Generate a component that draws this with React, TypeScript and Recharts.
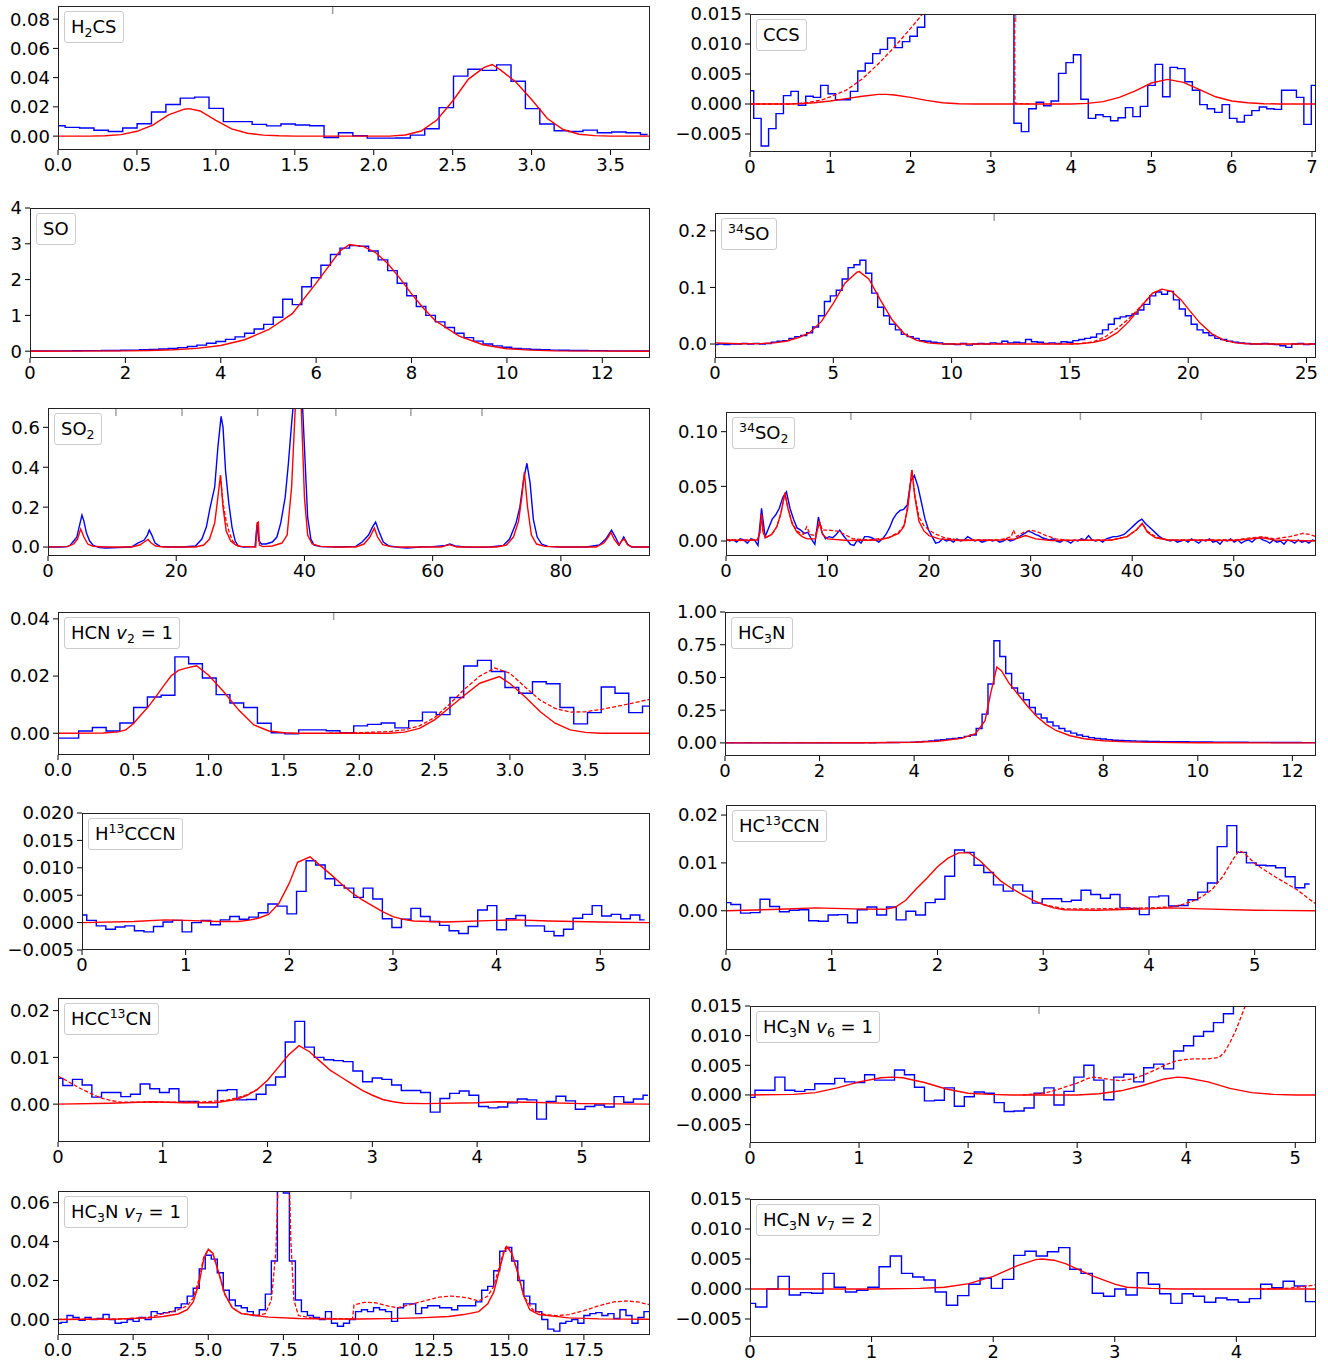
import React from "react";
import { LineChart, Line, XAxis, YAxis, ReferenceLine } from "recharts";

type Pt = { x: number; y: number };

// spectra are stored either as [velocity, value] pairs or as values on a uniform channel grid
const pairs = (a: number[][]): Pt[] => a.map(([x, y]) => ({ x, y }));
const chan = (start: number, width: number, v: number[]): Pt[] =>
  v.map((y, i) => ({ x: start + i * width, y }));

// ---------- H2CS ----------
const h2csObs = [
  0.0071, 0.006, 0.0055, 0.004, 0.0032, 0.0055, 0.0085, 0.0165, 0.0216, 0.026,
  0.0267, 0.019, 0.0099, 0.0099, 0.008, 0.007, 0.0083, 0.0076, 0.0071, -0.001,
  0.0023, 0.0002, -0.0014, -0.0014, -0.0013, 0.0007, 0.005, 0.0195, 0.041, 0.0457,
  0.045, 0.0487, 0.0375, 0.0188, 0.0083, 0.0037, 0.0032, 0.0041, 0.0023, 0.0028,
  0.0023, 0.0011,
];
const h2csModel = [
  [0, 0], [0.2, 0], [0.3, 0.0002], [0.4, 0.001], [0.5, 0.0033], [0.6, 0.0075], [0.7, 0.0145],
  [0.8, 0.0184], [0.83, 0.0188], [0.9, 0.0172], [1.0, 0.0108], [1.1, 0.005], [1.2, 0.002],
  [1.3, 0.0007], [1.4, 0.0002], [1.5, 0], [2.1, 0], [2.2, 0.0008], [2.3, 0.0035], [2.4, 0.011],
  [2.5, 0.024], [2.6, 0.039], [2.7, 0.047], [2.75, 0.049], [2.8, 0.0455], [2.9, 0.037],
  [3.0, 0.025], [3.1, 0.012], [3.2, 0.0045], [3.3, 0.0013], [3.4, 0.0003], [3.5, 0], [3.75, 0],
];

// ---------- CCS ----------
const ccsObs = [
  0.0022, -0.0024, -0.007, -0.0041, -0.0016, 0.0014, 0.0021, -0.0002, 0.0013, 0.0011,
  0.0031, 0.0017, 0.0007, 0.0007, 0.0021, 0.0055, 0.0068, 0.0084, 0.0091, 0.011,
  0.0094, 0.0104, 0.0113, 0.0128, 0.017, 0.02, 0.025, 0.03, 0.04, 0.05,
  0.07, 0.09, 0.1, 0.09, 0.07, 0.04, -0.0032, -0.0046, -0.0008, 0.0003,
  -0.0003, 0.0005, 0.0051, 0.0069, 0.0082, 0.0008, -0.0024, -0.0018, -0.0021, -0.0028,
  -0.0023, -0.0006, -0.0021, -0.0004, 0.0031, 0.0066, 0.0012, 0.0061, 0.0059, 0.0037,
  0.0023, -0.0001, -0.0008, -0.0014, -0.0001, -0.0024, -0.003, -0.0019, -0.0011, -0.0005,
  -0.0008, -0.0009, 0.0023, 0.0023, 0.0011, -0.0034, 0.0031,
];
const ccsModel = [
  [0, 0], [0.5, 0], [0.6, 0.00005], [0.8, 0.0002], [1.0, 0.0005], [1.2, 0.0009], [1.4, 0.0013],
  [1.6, 0.0016], [1.7, 0.0016], [1.8, 0.0015], [2.0, 0.0011], [2.2, 0.0006], [2.4, 0.0002],
  [2.6, 0.00005], [2.8, 0], [4.0, 0], [4.2, 0.0001], [4.4, 0.0004], [4.6, 0.0011], [4.8, 0.0022],
  [5.0, 0.0035], [5.2, 0.0041], [5.4, 0.0036], [5.6, 0.0024], [5.8, 0.0012], [6.0, 0.0005],
  [6.2, 0.0002], [6.4, 0.00005], [6.6, 0], [7.05, 0],
];
const ccsFull = [
  [0, 0], [0.5, 0], [0.7, 0.0002], [0.9, 0.0007], [1.0, 0.0012], [1.2, 0.0023], [1.4, 0.0042],
  [1.6, 0.0067], [1.8, 0.0095], [2.0, 0.0126], [2.15, 0.015], [2.3, 0.019], [2.5, 0.026],
  [2.7, 0.036], [2.9, 0.05], [3.1, 0.07], [3.28, 0.09], [3.3, 0.0001], [3.5, 0],
];

// ---------- SO ----------
const soObs = [
  0.01, 0.01, 0.01, 0.01, 0.01, 0.012, 0.015, 0.015, 0.02, 0.02,
  0.025, 0.03, 0.04, 0.05, 0.06, 0.08, 0.1, 0.13, 0.17, 0.22,
  0.27, 0.33, 0.4, 0.5, 0.62, 0.75, 0.95, 1.45, 1.3, 1.8,
  2.05, 2.4, 2.7, 2.88, 2.95, 2.93, 2.8, 2.55, 2.25, 1.9,
  1.55, 1.25, 1.0, 0.82, 0.66, 0.5, 0.38, 0.28, 0.2, 0.15,
  0.11, 0.08, 0.06, 0.05, 0.04, 0.03, 0.025, 0.02, 0.02, 0.015,
  0.015, 0.01, 0.01, 0.01, 0.01, 0.01,
];
const soModel = [
  [0, 0], [1, 0.003], [2, 0.01], [2.5, 0.02], [3, 0.04], [3.5, 0.08], [4, 0.16], [4.5, 0.32],
  [5, 0.6], [5.5, 1.05], [6, 1.9], [6.25, 2.35], [6.5, 2.8], [6.7, 2.98], [7, 2.92], [7.25, 2.75],
  [7.5, 2.45], [7.75, 2.05], [8, 1.6], [8.25, 1.2], [8.5, 0.85], [9, 0.42], [9.5, 0.18],
  [10, 0.07], [10.5, 0.03], [11, 0.01], [12, 0.003], [13, 0],
];

// ---------- 34SO ----------
const so34Obs = [
  -0.001, 0, -0.001, 0, 0, 0.001, 0, 0.001, 0, 0.001,
  0.003, 0.005, 0.006, 0.01, 0.013, 0.015, 0.02, 0.03, 0.05, 0.075,
  0.085, 0.095, 0.115, 0.135, 0.14, 0.148, 0.125, 0.09, 0.065, 0.05,
  0.035, 0.025, 0.017, 0.013, 0.01, 0.006, 0.005, 0.003, 0.002, 0,
  0, -0.001, 0.001, -0.002, 0, 0.001, 0, 0.002, 0.001, 0.005,
  0.002, 0.003, 0.002, 0.008, 0.004, 0.003, 0.001, 0.002, 0.001, 0.004,
  0.003, 0.006, 0.008, 0.01, 0.012, 0.018, 0.025, 0.035, 0.045, 0.048,
  0.05, 0.053, 0.06, 0.07, 0.085, 0.092, 0.088, 0.093, 0.078, 0.062,
  0.05, 0.035, 0.025, 0.02, 0.015, 0.01, 0.008, 0.005, 0.003, 0.002,
  0.001, 0, 0, 0.001, 0, -0.001, -0.003, -0.006, 0, 0.001,
  -0.001, 0, 0,
];
const so34Model = [
  [0, 0.002], [1, 0.0005], [2, 0.001], [2.5, 0.002], [3, 0.005], [3.5, 0.011], [4, 0.02],
  [4.5, 0.04], [5, 0.072], [5.5, 0.108], [6, 0.127], [6.1, 0.128], [6.5, 0.115], [7, 0.077],
  [7.5, 0.042], [8, 0.018], [8.5, 0.007], [9, 0.002], [9.5, 0.0005], [10, 0], [15, 0],
  [15.5, 0.001], [16, 0.003], [16.5, 0.008], [17, 0.02], [17.5, 0.04], [18, 0.066], [18.5, 0.09],
  [18.9, 0.097], [19.3, 0.093], [19.7, 0.078], [20, 0.062], [20.5, 0.037], [21, 0.018],
  [21.5, 0.007], [22, 0.002], [22.5, 0.0005], [23, 0], [25.4, 0],
];
const so34Full = [
  [15, 0], [15.5, 0.001], [16, 0.004], [16.5, 0.013], [17, 0.028], [17.5, 0.045], [18, 0.067],
  [18.5, 0.09], [18.9, 0.097],
];

// ---------- SO2 ----------
const so2Obs = [
  [0, 0], [2, 0], [3, 0.002], [3.5, 0.01], [4, 0.03], [4.5, 0.05], [5, 0.12], [5.3, 0.16],
  [5.6, 0.13], [6, 0.07], [6.5, 0.03], [7, 0.01], [7.5, 0.003], [8, -0.003], [9, -0.005],
  [10, -0.004], [11, -0.003], [12, -0.001], [13, 0], [14, 0.02], [15, 0.035], [15.5, 0.06],
  [15.8, 0.085], [16.2, 0.06], [16.7, 0.02], [17.5, 0.003], [19, 0], [21, 0], [23, 0.005],
  [24, 0.04], [24.7, 0.1], [25.3, 0.2], [26, 0.3], [26.5, 0.5], [27, 0.655], [27.3, 0.6],
  [27.7, 0.38], [28.2, 0.22], [28.7, 0.1], [29.2, 0.03], [29.7, 0.005], [30.5, 0], [32.3, 0.002],
  [32.6, 0.11], [32.9, 0.03], [33.3, 0.015], [34, 0.015], [35, 0.025], [35.7, 0.05], [36.3, 0.12],
  [37, 0.25], [37.5, 0.42], [38, 0.62], [38.5, 0.8], [39.5, 0.85], [40, 0.5], [40.5, 0.15],
  [41, 0.04], [41.5, 0.01], [42.5, 0.002], [45, 0], [48, 0.003], [49, 0.025], [50, 0.06],
  [50.6, 0.1], [51.1, 0.125], [51.6, 0.08], [52.3, 0.025], [53.2, 0.005], [55, -0.003],
  [56, -0.005], [57, -0.003], [58, 0], [60, 0.002], [62, 0.008], [62.7, 0.015], [63.5, 0.006],
  [65, 0], [67, -0.002], [69, 0], [71, 0.008], [72, 0.04], [73, 0.12], [73.6, 0.2], [74.2, 0.34],
  [74.7, 0.42], [75.2, 0.32], [75.7, 0.14], [76.3, 0.05], [77, 0.015], [78, 0.003], [80, 0],
  [84, 0], [86, 0.01], [87, 0.04], [87.9, 0.085], [88.5, 0.05], [89.1, 0.01], [89.8, 0.05],
  [90.4, 0.015], [91, 0], [93.9, 0],
];
const so2Model = [
  [0, 0], [3, 0.002], [4, 0.015], [4.6, 0.04], [5.1, 0.09], [5.6, 0.05], [6.2, 0.015], [7, 0.004],
  [9, 0], [13, 0], [14.3, 0.01], [15, 0.025], [15.6, 0.038], [16.1, 0.02], [16.8, 0.005], [18, 0],
  [23, 0], [24.3, 0.01], [25.2, 0.04], [26, 0.12], [26.5, 0.25], [26.9, 0.36], [27.3, 0.2],
  [27.8, 0.08], [28.5, 0.03], [29.3, 0.01], [30, 0.003], [32.4, 0], [32.6, 0.12], [32.8, 0.125],
  [33, 0.01], [33.5, 0.002], [35, 0.005], [36.5, 0.02], [37.3, 0.06], [38, 0.3], [38.5, 0.65],
  [39, 1.0], [39.5, 0.7], [40, 0.25], [40.5, 0.06], [41.2, 0.015], [42.5, 0.003], [45, 0], [48, 0],
  [49.3, 0.015], [50.2, 0.05], [50.9, 0.095], [51.4, 0.05], [52.2, 0.012], [53.5, 0.002], [55, 0],
  [61.3, 0], [62.6, 0.012], [63.8, 0], [70, 0], [71.5, 0.01], [72.6, 0.05], [73.4, 0.13],
  [73.9, 0.25], [74.3, 0.375], [74.8, 0.2], [75.4, 0.06], [76.2, 0.015], [77.5, 0.003], [80, 0],
  [85.5, 0], [86.7, 0.02], [87.4, 0.05], [87.8, 0.073], [88.3, 0.04], [89, 0.01], [89.6, 0.035],
  [89.9, 0.04], [90.4, 0.01], [91.2, 0], [93.9, 0],
];
const so2Full = [
  [26.9, 0.36], [27.3, 0.22], [27.8, 0.13], [28.3, 0.07], [28.8, 0.03], [29.5, 0.008], [30, 0.002],
];

// ---------- 34SO2 ----------
const so234Obs = [
  0.002, 0, 0.001, -0.001, 0.002, 0.001, -0.002, 0.002, 0.001, -0.004,
  0.03, 0.004, 0.012, 0.02, 0.024, 0.03, 0.04, 0.045, 0.03, 0.02,
  0.012, 0.01, 0.007, 0.008, 0.002, -0.003, 0.022, 0.008, 0.002, 0.004,
  0.003, 0.006, 0.01, 0.005, 0.001, -0.003, -0.004, 0.001, -0.002, 0.004,
  0.004, 0.003, 0.001, -0.001, 0.002, 0.006, 0.012, 0.02, 0.025, 0.028,
  0.029, 0.033, 0.055, 0.06, 0.05, 0.035, 0.02, 0.01, 0.004, -0.002,
  -0.001, 0.002, 0, 0.001, -0.001, 0.002, 0, 0.001, 0.004, 0.002,
  0, 0.001, -0.001, 0, 0.001, 0, 0.001, -0.001, 0, 0.002,
  0, 0.001, 0.003, 0.005, 0.007, 0.009, 0.008, 0.006, 0.005, 0.003,
  0.002, 0.001, 0.002, 0, -0.001, 0.001, 0, -0.002, 0.001, 0,
  0.002, 0.001, 0.005, 0.001, 0, 0.001, -0.001, 0.002, 0.003, 0.004,
  0.004, 0.005, 0.006, 0.009, 0.012, 0.015, 0.018, 0.02, 0.016, 0.013,
  0.01, 0.007, 0.004, 0.002, 0.001, 0, 0.001, -0.001, 0, 0.001,
  -0.001, 0.002, 0, -0.002, 0.001, 0, 0.002, -0.001, 0, -0.003,
  0.001, 0, 0.002, -0.001, 0.001, -0.002, 0, 0.001, -0.001, 0.002,
  0.003, 0.001, 0, -0.002, 0.001, -0.001, 0, -0.003, 0.001, 0,
  -0.002, 0.001, -0.001, 0, -0.002, 0.001, 0,
];
const so234Model = [
  [0, 0.001], [2, 0.0005], [3.1, 0.001], [3.35, 0.008], [3.5, 0.024], [3.65, 0.008], [3.9, 0.003],
  [4.5, 0.006], [5, 0.013], [5.4, 0.025], [5.8, 0.044], [6.1, 0.03], [6.5, 0.016], [7, 0.008],
  [7.5, 0.004], [8, 0.002], [8.8, 0.002], [9, 0.01], [9.2, 0.017], [9.5, 0.006], [10, 0.002],
  [12, 0.0005], [15, 0.001], [16, 0.003], [17, 0.007], [17.5, 0.013], [17.9, 0.03], [18.3, 0.065],
  [18.6, 0.04], [19, 0.018], [19.5, 0.009], [20, 0.005], [21, 0.002], [23, 0.0005], [27, 0.001],
  [28.5, 0.002], [29.5, 0.005], [30.5, 0.002], [32, 0.0005], [38, 0.001], [39.5, 0.004],
  [40.4, 0.01], [41, 0.016], [41.5, 0.008], [42.3, 0.003], [43.5, 0.001], [50, 0.0005],
  [52.8, 0.003], [54, 0.001], [58.1, 0],
];
const so234Full = [
  [0, 0.001], [3.1, 0.001], [3.35, 0.009], [3.5, 0.025], [3.65, 0.009], [3.9, 0.003], [4.5, 0.006],
  [5, 0.013], [5.4, 0.025], [5.8, 0.044], [6.1, 0.03], [6.5, 0.017], [7, 0.009], [7.6, 0.006],
  [7.95, 0.013], [8.3, 0.006], [8.8, 0.005], [9.2, 0.018], [9.5, 0.01], [10, 0.01], [11, 0.009],
  [11.7, 0.006], [12.5, 0.002], [14, 0.001], [16, 0.003], [17, 0.008], [17.6, 0.015], [18, 0.04],
  [18.3, 0.065], [18.6, 0.042], [19, 0.022], [19.5, 0.014], [20, 0.01], [20.5, 0.007],
  [21.5, 0.003], [23, 0.001], [27, 0.001], [28.1, 0.004], [28.3, 0.01], [28.6, 0.004],
  [29.3, 0.008], [30, 0.01], [30.8, 0.008], [31.5, 0.005], [32.5, 0.002], [34, 0.0005],
  [38, 0.001], [39.5, 0.004], [40.4, 0.01], [41, 0.016], [41.5, 0.009], [42.3, 0.004],
  [43.5, 0.001], [50, 0.001], [52.8, 0.004], [54, 0.002], [55.5, 0.004], [56.8, 0.007],
  [57.5, 0.006], [58.1, 0.004],
];

// ---------- HCN v2=1 ----------
const hcnObs = [
  -0.0017, -0.0017, 0.0008, 0.002, 0.0008, 0.0036, 0.009, 0.0127, 0.0133, 0.0267,
  0.0243, 0.0193, 0.0135, 0.0106, 0.009, 0.0035, 0.0002, -0.0002, 0.0012, 0.0012,
  0.0009, 0.0002, 0.0026, 0.0031, 0.0036, 0.0019, 0.0044, 0.0074, 0.0065, 0.0125,
  0.0235, 0.0255, 0.0216, 0.016, 0.014, 0.018, 0.0173, 0.009, 0.0033, 0.0072,
  0.0162, 0.014, 0.0072, 0.0095,
];
const hcnModel = [
  [0, 0], [0.3, 0.0001], [0.4, 0.0005], [0.45, 0.0012], [0.5, 0.0033], [0.55, 0.0064],
  [0.6, 0.0093], [0.65, 0.0128], [0.7, 0.0165], [0.75, 0.02], [0.8, 0.022], [0.85, 0.0228],
  [0.92, 0.0236], [1.0, 0.0203], [1.1, 0.0145], [1.2, 0.0081], [1.3, 0.0029], [1.4, 0.0008],
  [1.5, 0.0002], [1.6, 0], [2.2, 0], [2.3, 0.0004], [2.4, 0.0017], [2.5, 0.0047], [2.6, 0.009],
  [2.7, 0.0134], [2.8, 0.0175], [2.93, 0.0198], [3.0, 0.0174], [3.1, 0.0128], [3.2, 0.0076],
  [3.3, 0.0035], [3.4, 0.0012], [3.5, 0.0003], [3.6, 0], [3.93, 0],
];
const hcnFull = [
  [1.8, 0], [2.0, 0.0002], [2.2, 0.0006], [2.3, 0.0012], [2.4, 0.0026], [2.5, 0.0055],
  [2.6, 0.0102], [2.7, 0.0155], [2.8, 0.02], [2.9, 0.0228], [3.0, 0.021], [3.1, 0.0162],
  [3.2, 0.0116], [3.3, 0.0087], [3.4, 0.0074], [3.5, 0.0075], [3.6, 0.0083], [3.7, 0.0093],
  [3.8, 0.0104], [3.93, 0.0119],
];

// ---------- HC3N ----------
const hc3nObs = [
  0, 0.001, 0, 0, 0.001, 0, 0, 0.001, 0, 0,
  0.001, 0, 0, 0.001, 0, 0, 0.001, 0, 0.001, 0,
  0.001, 0.001, 0, 0.001, 0.002, 0.001, 0.002, 0.002, 0.003, 0.003,
  0.004, 0.004, 0.005, 0.008, 0.012, 0.015, 0.02, 0.025, 0.03, 0.035,
  0.04, 0.05, 0.06, 0.11, 0.22, 0.45, 0.78, 0.66, 0.53, 0.42,
  0.38, 0.33, 0.27, 0.22, 0.19, 0.16, 0.13, 0.11, 0.09, 0.075,
  0.06, 0.05, 0.04, 0.035, 0.03, 0.025, 0.02, 0.018, 0.016, 0.015,
  0.014, 0.013, 0.012, 0.011, 0.01, 0.01, 0.01, 0.009, 0.009, 0.008,
  0.008, 0.007, 0.007, 0.006, 0.006, 0.006, 0.005, 0.005, 0.005, 0.004,
  0.004, 0.004, 0.004, 0.003, 0.003, 0.003, 0.003, 0.003, 0.002, 0.002,
  0.002,
];
const hc3nModel = [
  [0, 0], [3, 0.001], [4, 0.005], [4.5, 0.013], [5, 0.035], [5.3, 0.07], [5.5, 0.17], [5.62, 0.38],
  [5.75, 0.58], [5.85, 0.55], [6.0, 0.46], [6.2, 0.37], [6.4, 0.28], [6.6, 0.2], [6.8, 0.14],
  [7.0, 0.095], [7.3, 0.055], [7.6, 0.032], [8.0, 0.016], [8.5, 0.008], [9, 0.004], [10, 0.001],
  [12.5, 0],
];

// ---------- H13CCCN ----------
const h13Obs = [
  0.0014, 0.0004, -0.0006, -0.0012, -0.0008, -0.0006, -0.0015, -0.0017, -0.0007, 0.0001,
  0.0004, -0.0017, 0, 0.0004, -0.0004, 0.0005, 0.0011, 0.0006, 0.001, 0.0018,
  0.0034, 0.003, 0.0016, 0.0057, 0.0113, 0.0105, 0.008, 0.0068, 0.0063, 0.0046,
  0.0063, 0.0043, 0.0007, -0.0009, 0.0006, 0.0026, 0.0011, 0.0002, -0.0005, -0.0015,
  -0.002, -0.0007, 0.0023, 0.0031, -0.0013, 0.0007, 0.0013, -0.0006, -0.0006, -0.0016,
  -0.0024, -0.0012, 0.0008, 0.0015, 0.0031, 0.0012, 0.0015, 0.0007, 0.0014, 0.0005,
];
const h13Model = [
  [0, 0], [0.5, 0.0002], [0.8, 0.0005], [1.0, 0.0004], [1.3, 0.0002], [1.5, 0.0002], [1.6, 0.0004],
  [1.7, 0.0008], [1.8, 0.0015], [1.9, 0.0035], [2.0, 0.0072], [2.08, 0.011], [2.2, 0.012],
  [2.3, 0.0104], [2.4, 0.0088], [2.5, 0.0071], [2.6, 0.0055], [2.7, 0.0042], [2.8, 0.0031],
  [2.9, 0.002], [3.0, 0.0011], [3.1, 0.0006], [3.2, 0.0003], [3.5, 0.0001], [4.0, 0.0004],
  [4.2, 0.0005], [4.5, 0.0003], [5.0, 0.0001], [5.48, 0],
];

// ---------- HC13CCN ----------
const hc13Obs = [
  0.0017, 0.0013, -0.0005, -0.0004, 0.0024, 0.0009, -0.0002, 0.0001, 0.0002, -0.0021,
  -0.0022, -0.0009, -0.0008, -0.0025, 0.0002, 0.0008, -0.0009, 0.0008, -0.0019, -0.0001,
  -0.0009, 0.0017, 0.0024, 0.0072, 0.0127, 0.0122, 0.0095, 0.008, 0.0054, 0.0041,
  0.0054, 0.0041, 0.0016, 0.0025, 0.0025, 0.0019, 0.0022, 0.0043, 0.0034, 0.0026,
  0.0034, 0.0006, 0.0005, -0.0008, 0.0029, 0.0031, 0.001, 0.0011, 0.0023, 0.0039,
  0.0058, 0.0134, 0.0178, 0.0122, 0.01, 0.0095, 0.0094, 0.009, 0.0071, 0.0048,
  0.0056,
];
const hc13Model = [
  [0, 0], [0.5, 0.0003], [0.85, 0.0006], [1.2, 0.0004], [1.5, 0.0003], [1.6, 0.0007],
  [1.7, 0.0022], [1.8, 0.0046], [1.9, 0.0068], [2.0, 0.0092], [2.1, 0.011], [2.2, 0.0121],
  [2.3, 0.0121], [2.4, 0.0105], [2.5, 0.0083], [2.6, 0.0062], [2.7, 0.0047], [2.8, 0.0034],
  [2.9, 0.0022], [3.0, 0.0013], [3.1, 0.0006], [3.2, 0.0002], [3.5, 0.0001], [4.0, 0.0004],
  [4.2, 0.0006], [4.5, 0.0004], [5.0, 0.0001], [5.58, 0],
];
const hc13Full = [
  [3.0, 0.0013], [3.2, 0.0004], [3.5, 0.0004], [4.0, 0.0006], [4.2, 0.0008], [4.3, 0.0012],
  [4.4, 0.0019], [4.5, 0.0029], [4.6, 0.0045], [4.7, 0.0072], [4.8, 0.0109], [4.85, 0.0125],
  [4.9, 0.0121], [5.0, 0.0099], [5.1, 0.0084], [5.2, 0.007], [5.3, 0.0057], [5.4, 0.0044],
  [5.5, 0.0027], [5.58, 0.0014],
];

// ---------- HCC13CN ----------
const hcc13Obs = [
  0.0055, 0.004, 0.0053, 0.0041, 0.0015, 0.0025, 0.0025, 0.0016, 0.0021, 0.0043,
  0.0033, 0.0025, 0.0033, 0.0006, 0.0006, -0.0006, -0.0006, 0.0029, 0.0031, 0.0009,
  0.001, 0.0021, 0.0041, 0.0058, 0.0133, 0.0177, 0.0122, 0.01, 0.0095, 0.0093,
  0.0091, 0.0071, 0.0048, 0.0056, 0.0053, 0.0041, 0.0029, 0.0029, 0.0025, -0.0017,
  0.0012, 0.0023, 0.0028, 0.0019, -0.0005, -0.0008, -0.0006, 0.0003, 0.0011, 0.0009,
  -0.0032, 0.0006, 0.0017, 0.0007, -0.0011, -0.0005, -0.0002, -0.0006, 0.0016, 0.0004,
  0.0011, 0.0019,
];
const hcc13Model = [
  [0, 0], [0.5, 0.0002], [0.9, 0.0005], [1.2, 0.0003], [1.5, 0.0003], [1.7, 0.001], [1.8, 0.0018],
  [1.9, 0.0031], [2.0, 0.0051], [2.1, 0.0078], [2.2, 0.0105], [2.3, 0.0125], [2.4, 0.0112],
  [2.5, 0.0092], [2.6, 0.0072], [2.7, 0.0058], [2.8, 0.0044], [2.9, 0.003], [3.0, 0.0019],
  [3.1, 0.001], [3.2, 0.0005], [3.3, 0.0002], [3.5, 0.0001], [4.0, 0.0003], [4.2, 0.0005],
  [4.5, 0.0004], [5, 0.0001], [5.65, 0],
];
const hcc13Full = [
  [0, 0.006], [0.1, 0.0048], [0.2, 0.0035], [0.3, 0.0024], [0.4, 0.0014], [0.5, 0.0008],
  [0.6, 0.0004], [0.8, 0.0004], [1.0, 0.0004], [1.4, 0.0005], [1.6, 0.0008], [1.7, 0.0013],
  [1.8, 0.002], [1.9, 0.0031],
];

// ---------- HC3N v6=1 ----------
const v6Obs = [
  -0.0004, 0.0008, 0.0008, 0.003, 0.0008, 0.0006, 0.0009, 0.0019, 0.0019, 0.0028,
  0.0022, 0.0021, 0.0034, 0.0025, 0.0025, 0.0042, 0.0034, 0.0013, -0.001, -0.0009,
  0.0012, -0.0019, -0.0003, 0.0005, 0.0003, -0.0013, -0.0028, -0.0027, -0.0022, 0.0003,
  0.0012, -0.0017, 0.0006, 0.003, 0.005, 0.0025, -0.0008, 0.003, 0.0035, 0.0022,
  0.0046, 0.0052, 0.0044, 0.0074, 0.0083, 0.0099, 0.0107, 0.0122, 0.0137, 0.016,
  0.019, 0.023, 0.028, 0.034, 0.04, 0.048, 0.055, 0.06,
];
const v6Model = [
  [0, 0], [0.4, 0.0001], [0.6, 0.0004], [0.8, 0.0012], [1.0, 0.0022], [1.2, 0.0029], [1.3, 0.003],
  [1.4, 0.0029], [1.6, 0.0021], [1.8, 0.001], [2.0, 0.0003], [2.2, 0.0001], [2.4, 0], [3.0, 0],
  [3.2, 0.0002], [3.4, 0.0007], [3.6, 0.0016], [3.8, 0.0027], [3.92, 0.003], [4.0, 0.0029],
  [4.2, 0.0022], [4.4, 0.0011], [4.6, 0.0004], [4.8, 0.0001], [5.0, 0], [5.19, 0],
];
const v6Full = [
  [2.5, 0], [2.7, 0.0003], [2.8, 0.0008], [2.9, 0.0014], [3.0, 0.002], [3.1, 0.0028], [3.15, 0.003],
  [3.2, 0.0029], [3.3, 0.0026], [3.4, 0.0024], [3.5, 0.0027], [3.6, 0.0033], [3.7, 0.0041],
  [3.8, 0.005], [3.9, 0.0057], [4.0, 0.006], [4.1, 0.0061], [4.2, 0.0061], [4.3, 0.0063],
  [4.35, 0.0072], [4.4, 0.0088], [4.45, 0.0107], [4.5, 0.013], [4.55, 0.0155], [4.6, 0.019],
  [4.7, 0.027], [4.8, 0.036], [5.19, 0.06],
];

// ---------- HC3N v7=1 ----------
const v71Obs = [
  -0.002, -0.0015, 0.002, 0.001, -0.0005, 0.001, 0, 0.0005, 0.0025, 0,
  -0.002, -0.0015, 0, -0.001, 0.001, 0, 0.004, 0.003, 0.0035, 0.004,
  0.006, 0.008, 0.012, 0.016, 0.026, 0.033, 0.031, 0.024, 0.015, 0.01,
  0.007, 0.006, 0.004, 0.002, 0.005, 0.013, 0.03, 0.08, 0.065, 0.03,
  0.01, 0.004, 0.002, 0.001, 0, 0.004, -0.002, -0.0035, -0.002, 0,
  0.004, 0.005, 0.004, 0.006, 0.005, 0.004, -0.001, 0.006, 0.008, 0.008,
  0.003, 0.006, 0.007, 0.007, 0.006, 0.006, 0.005, 0.007, 0.007, 0.007,
  0.009, 0.015, 0.017, 0.025, 0.035, 0.037, 0.03, 0.02, 0.012, 0.008,
  0.004, 0, -0.005, -0.006, -0.002, -0.001, 0, -0.002, 0.002, 0.003,
  0.0035, 0.002, 0.003, 0.0005, 0.005, 0.002, -0.002, 0.001, 0.004, 0.0035,
];
const v71Model = [
  [0, 0], [2, 0.0002], [3, 0.0008], [3.5, 0.0015], [4, 0.0028], [4.3, 0.005], [4.5, 0.009],
  [4.7, 0.019], [4.85, 0.031], [5.0, 0.036], [5.15, 0.034], [5.35, 0.024], [5.55, 0.013],
  [5.8, 0.006], [6.1, 0.003], [7, 0.0012], [8, 0.0005], [9, 0.0002], [10, 0.0002], [11, 0.0004],
  [12, 0.0008], [13, 0.0015], [13.5, 0.0025], [14, 0.004], [14.3, 0.008], [14.5, 0.014],
  [14.7, 0.026], [14.85, 0.035], [14.95, 0.037], [15.1, 0.034], [15.3, 0.024], [15.5, 0.012],
  [15.7, 0.005], [16, 0.0025], [17, 0.0008], [18, 0.0003], [19.7, 0.0001],
];
const v71Full = [
  [0, 0], [2, 0.0002], [3, 0.001], [3.5, 0.003], [3.8, 0.004], [4, 0.005], [4.3, 0.007],
  [4.5, 0.011], [4.7, 0.021], [4.85, 0.032], [5.0, 0.036], [5.15, 0.034], [5.35, 0.024],
  [5.55, 0.013], [5.8, 0.006], [6.1, 0.003], [6.6, 0.002], [6.9, 0.003], [7.1, 0.01],
  [7.25, 0.035], [7.35, 0.08], [7.5, 0.12], [7.65, 0.1], [7.75, 0.04], [7.85, 0.01], [8.0, 0.002],
  [8.5, 0.0006], [9.8, 0.0003], [9.85, 0.0075], [10.2, 0.0088], [10.6, 0.0085], [11.0, 0.0068],
  [11.3, 0.006], [11.7, 0.0075], [12.2, 0.0095], [12.7, 0.0115], [13.1, 0.012], [13.6, 0.0112],
  [14.0, 0.0095], [14.3, 0.012], [14.5, 0.017], [14.7, 0.028], [14.85, 0.036], [14.95, 0.038],
  [15.1, 0.034], [15.3, 0.024], [15.5, 0.012], [15.8, 0.005], [16.2, 0.0025], [16.6, 0.002],
  [17.0, 0.0025], [17.5, 0.0045], [18.0, 0.007], [18.5, 0.009], [18.9, 0.0095], [19.3, 0.009],
  [19.7, 0.0075],
];

// ---------- HC3N v7=2 ----------
const v72Obs = [
  -0.0024, -0.003, 0, 0.0021, -0.001, -0.0006, -0.0007, 0.0026, 0.0003, -0.0005,
  -0.0002, 0.0003, 0.0037, 0.0055, 0.0026, 0.002, 0.0015, -0.0005, -0.0027, -0.0011,
  0.0008, 0.0018, 0.0001, 0.0016, 0.0056, 0.0063, 0.0055, 0.0062, 0.0069, 0.0033,
  0.0026, -0.0007, -0.0012, 0, -0.001, 0.0027, 0.0008, -0.0008, -0.0024, -0.0008,
  -0.0012, -0.0022, -0.0015, -0.0018, -0.0022, -0.0016, 0.0008, 0.0002, 0.0013, 0.0005,
  -0.0021, 0.0005,
];
const v72Model = [
  [0, 0], [1.0, 0], [1.4, 0.0001], [1.6, 0.0003], [1.8, 0.0009], [2.0, 0.0021], [2.2, 0.0039],
  [2.35, 0.0049], [2.4, 0.005], [2.5, 0.0048], [2.6, 0.0042], [2.8, 0.0023], [3.0, 0.0008],
  [3.1, 0.0003], [3.3, 0.0001], [3.5, 0], [4.655, 0],
];
const v72Full = [[4.2, 0], [4.4, 0.0001], [4.55, 0.0004], [4.655, 0.0007]];

// ---------- layout ----------
const BLUE = "#0000ff";
const RED = "#ff0000";
const FONT = "DejaVu Sans";
const YW = 90;
const XH = 34;
const RM = 16;
const MT = 14;

const fmt = (v: number, d: number) => {
  const s = Math.abs(v) < 1e-12 ? (0).toFixed(d) : v.toFixed(d);
  return s.replace("-", "\u2212");
};

const Sub = ({ children }: { children: React.ReactNode }) => (
  <span style={{ fontSize: 12.5, position: "relative", top: "0.35em", lineHeight: 0 }}>{children}</span>
);
const Sup = ({ children }: { children: React.ReactNode }) => (
  <span style={{ fontSize: 12.5, position: "relative", top: "-0.55em", lineHeight: 0 }}>{children}</span>
);
const V = () => <i style={{ fontFamily: FONT }}>v</i>;

type PanelProps = {
  box: number[];
  xDomain: number[];
  yDomain: number[];
  xTicks: number[];
  yTicks: number[];
  xDec: number;
  yDec: number;
  obs: Pt[];
  obsType: "step" | "linear";
  model: Pt[];
  full?: Pt[];
  marks?: number[];
  label: React.ReactNode;
};

function Panel(p: PanelProps) {
  const [l, t, r, b] = p.box;
  const w = r - l;
  const h = b - t;
  const markLen = ((p.yDomain[1] - p.yDomain[0]) * 8) / h;
  const tick = { fontSize: 18, fill: "#000", fontFamily: FONT };
  return (
    <>
      <div style={{ position: "absolute", left: l - YW, top: t - MT }}>
        <LineChart width={w + YW + RM} height={h + XH + MT} margin={{ top: MT, right: RM, bottom: 0, left: 0 }}>
          <XAxis
            type="number"
            dataKey="x"
            domain={p.xDomain}
            ticks={p.xTicks}
            interval={0}
            allowDataOverflow
            axisLine={false}
            tickLine={{ stroke: "#000", strokeWidth: 1 }}
            tickSize={5}
            tickMargin={3}
            height={XH}
            tick={tick}
            tickFormatter={(v: number) => fmt(v, p.xDec)}
          />
          <YAxis
            type="number"
            dataKey="y"
            domain={p.yDomain}
            ticks={p.yTicks}
            interval={0}
            allowDataOverflow
            axisLine={false}
            tickLine={{ stroke: "#000", strokeWidth: 1 }}
            tickSize={5}
            tickMargin={3}
            width={YW}
            tick={tick}
            tickFormatter={(v: number) => fmt(v, p.yDec)}
          />
          {(p.marks || []).map((m) => (
            <ReferenceLine
              key={m}
              segment={[
                { x: m, y: p.yDomain[1] },
                { x: m, y: p.yDomain[1] - markLen },
              ]}
              stroke="#a0a0a0"
              strokeWidth={1.5}
            />
          ))}
          <Line data={p.obs} dataKey="y" type={p.obsType} stroke={BLUE} strokeWidth={1.4} dot={false} isAnimationActive={false} />
          <Line data={p.model} dataKey="y" type="linear" stroke={RED} strokeWidth={1.4} dot={false} isAnimationActive={false} />
          {p.full && (
            <Line
              data={p.full}
              dataKey="y"
              type="linear"
              stroke={RED}
              strokeWidth={1.3}
              strokeDasharray="4 2"
              dot={false}
              isAnimationActive={false}
            />
          )}
        </LineChart>
      </div>
      <div
        style={{
          position: "absolute",
          left: l,
          top: t,
          width: w,
          height: h,
          border: "1px solid #222",
          boxSizing: "border-box",
          pointerEvents: "none",
        }}
      />
      <div
        style={{
          position: "absolute",
          left: l + 6,
          top: t + 5,
          height: 32,
          boxSizing: "border-box",
          padding: "0 6px",
          lineHeight: "30px",
          border: "1px solid #cccccc",
          borderRadius: 3,
          background: "rgba(255,255,255,0.8)",
          fontSize: 18,
          fontFamily: FONT,
          whiteSpace: "nowrap",
        }}
      >
        {p.label}
      </div>
    </>
  );
}

const panels: PanelProps[] = [
  {
    box: [58, 6, 650, 150], xDomain: [0, 3.75], yDomain: [-0.0095, 0.089],
    xTicks: [0, 0.5, 1, 1.5, 2, 2.5, 3, 3.5], yTicks: [0, 0.02, 0.04, 0.06, 0.08], xDec: 1, yDec: 2,
    obs: chan(0, 0.0911, h2csObs), obsType: "step", model: pairs(h2csModel), marks: [1.74],
    label: <>H<Sub>2</Sub>CS</>,
  },
  {
    box: [750, 14, 1316, 152], xDomain: [0, 7.05], yDomain: [-0.008, 0.015],
    xTicks: [0, 1, 2, 3, 4, 5, 6, 7], yTicks: [-0.005, 0, 0.005, 0.01, 0.015], xDec: 0, yDec: 3,
    obs: chan(0, 0.0926, ccsObs), obsType: "step", model: pairs(ccsModel), full: pairs(ccsFull), marks: [3.31],
    label: <>CCS</>,
  },
  {
    box: [30, 208, 650, 358], xDomain: [0, 13], yDomain: [-0.19, 4.0],
    xTicks: [0, 2, 4, 6, 8, 10, 12], yTicks: [0, 1, 2, 3, 4], xDec: 0, yDec: 0,
    obs: chan(0, 0.2, soObs), obsType: "step", model: pairs(soModel),
    label: <>SO</>,
  },
  {
    box: [715, 213, 1316, 358], xDomain: [0, 25.4], yDomain: [-0.0247, 0.2315],
    xTicks: [0, 5, 10, 15, 20, 25], yTicks: [0, 0.1, 0.2], xDec: 0, yDec: 1,
    obs: chan(0, 0.25, so34Obs), obsType: "step", model: pairs(so34Model), full: pairs(so34Full), marks: [11.8],
    label: <><Sup>34</Sup>SO</>,
  },
  {
    box: [48, 408, 650, 556], xDomain: [0, 93.9], yDomain: [-0.045, 0.697],
    xTicks: [0, 20, 40, 60, 80], yTicks: [0, 0.2, 0.4, 0.6], xDec: 0, yDec: 1,
    obs: pairs(so2Obs), obsType: "linear", model: pairs(so2Model), full: pairs(so2Full),
    marks: [10.6, 20.9, 32.7, 44.9, 56.6, 67.7],
    label: <>SO<Sub>2</Sub></>,
  },
  {
    box: [726, 412, 1316, 556], xDomain: [0, 58.1], yDomain: [-0.0137, 0.118],
    xTicks: [0, 10, 20, 30, 40, 50], yTicks: [0, 0.05, 0.1], xDec: 0, yDec: 2,
    obs: chan(0, 0.35, so234Obs), obsType: "linear", model: pairs(so234Model), full: pairs(so234Full),
    marks: [12.3, 24.1, 34.9, 46.8],
    label: <><Sup>34</Sup>SO<Sub>2</Sub></>,
  },
  {
    box: [58, 612, 650, 755], xDomain: [0, 3.93], yDomain: [-0.0076, 0.0424],
    xTicks: [0, 0.5, 1, 1.5, 2, 2.5, 3, 3.5], yTicks: [0, 0.02, 0.04], xDec: 1, yDec: 2,
    obs: chan(0, 0.0913, hcnObs), obsType: "step", model: pairs(hcnModel), full: pairs(hcnFull), marks: [1.83],
    label: <>HCN <V /><Sub>2</Sub> = 1</>,
  },
  {
    box: [725, 612, 1316, 756], xDomain: [0, 12.5], yDomain: [-0.1, 1.0],
    xTicks: [0, 2, 4, 6, 8, 10, 12], yTicks: [0, 0.25, 0.5, 0.75, 1.0], xDec: 0, yDec: 2,
    obs: chan(0, 0.125, hc3nObs), obsType: "step", model: pairs(hc3nModel),
    label: <>HC<Sub>3</Sub>N</>,
  },
  {
    box: [82, 813, 650, 950], xDomain: [0, 5.48], yDomain: [-0.005, 0.02],
    xTicks: [0, 1, 2, 3, 4, 5], yTicks: [-0.005, 0, 0.005, 0.01, 0.015, 0.02], xDec: 0, yDec: 3,
    obs: chan(0, 0.092, h13Obs), obsType: "step", model: pairs(h13Model),
    label: <>H<Sup>13</Sup>CCCN</>,
  },
  {
    box: [726, 805, 1316, 950], xDomain: [0, 5.58], yDomain: [-0.0082, 0.0221],
    xTicks: [0, 1, 2, 3, 4, 5], yTicks: [0, 0.01, 0.02], xDec: 0, yDec: 2,
    obs: chan(0, 0.092, hc13Obs), obsType: "step", model: pairs(hc13Model), full: pairs(hc13Full),
    label: <>HC<Sup>13</Sup>CCN</>,
  },
  {
    box: [58, 998, 650, 1142], xDomain: [0, 5.65], yDomain: [-0.0081, 0.0227],
    xTicks: [0, 1, 2, 3, 4, 5], yTicks: [0, 0.01, 0.02], xDec: 0, yDec: 2,
    obs: chan(0, 0.0923, hcc13Obs), obsType: "step", model: pairs(hcc13Model), full: pairs(hcc13Full),
    label: <>HCC<Sup>13</Sup>CN</>,
  },
  {
    box: [750, 1006, 1316, 1143], xDomain: [0, 5.19], yDomain: [-0.0081, 0.015],
    xTicks: [0, 1, 2, 3, 4, 5], yTicks: [-0.005, 0, 0.005, 0.01, 0.015], xDec: 0, yDec: 3,
    obs: chan(0, 0.0914, v6Obs), obsType: "step", model: pairs(v6Model), full: pairs(v6Full), marks: [2.65],
    label: <>HC<Sub>3</Sub>N <V /><Sub>6</Sub> = 1</>,
  },
  {
    box: [58, 1191, 650, 1335], xDomain: [0, 19.7], yDomain: [-0.008, 0.066],
    xTicks: [0, 2.5, 5, 7.5, 10, 12.5, 15, 17.5], yTicks: [0, 0.02, 0.04, 0.06], xDec: 1, yDec: 2,
    obs: chan(0, 0.2, v71Obs), obsType: "step", model: pairs(v71Model), full: pairs(v71Full), marks: [9.75],
    label: <>HC<Sub>3</Sub>N <V /><Sub>7</Sub> = 1</>,
  },
  {
    box: [750, 1199, 1316, 1337], xDomain: [0, 4.655], yDomain: [-0.008, 0.015],
    xTicks: [0, 1, 2, 3, 4], yTicks: [-0.005, 0, 0.005, 0.01, 0.015], xDec: 0, yDec: 3,
    obs: chan(0, 0.0923, v72Obs), obsType: "step", model: pairs(v72Model), full: pairs(v72Full),
    label: <>HC<Sub>3</Sub>N <V /><Sub>7</Sub> = 2</>,
  },
];

export default function App() {
  return (
    <div
      style={{
        position: "absolute",
        left: 0,
        top: 0,
        width: 1328,
        height: 1367,
        background: "#fff",
        fontFamily: FONT,
        overflow: "hidden",
      }}
    >
      {panels.map((p, i) => (
        <Panel key={i} {...p} />
      ))}
    </div>
  );
}
